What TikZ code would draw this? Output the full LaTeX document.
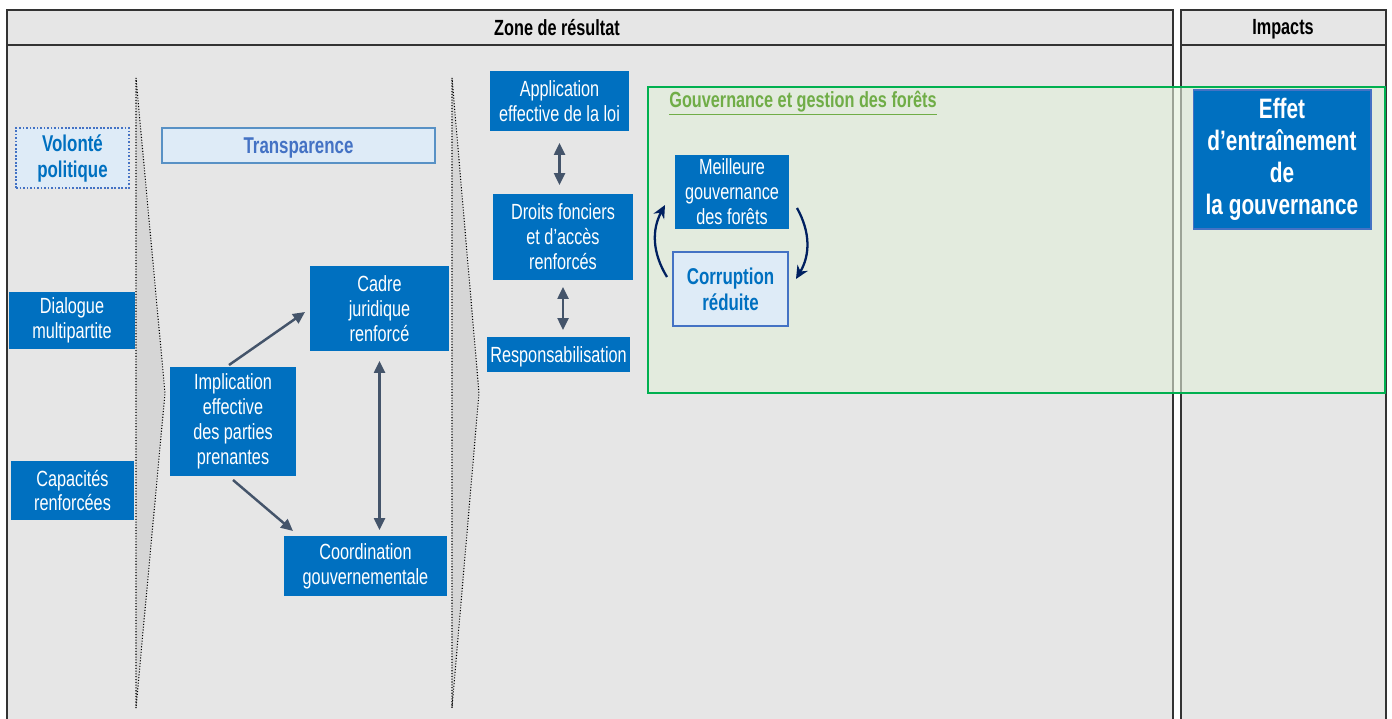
\documentclass[tikz,border=0pt]{standalone}
\usepackage{fontspec}
\setmainfont{Liberation Sans}[FakeStretch=0.74]
\usetikzlibrary{arrows.meta,calc}
\definecolor{ablue}{HTML}{0070C0}
\definecolor{paleblue}{HTML}{DEEBF7}
\definecolor{edgeblue}{HTML}{4472C4}
\definecolor{skyblue}{HTML}{2E75B6}
\definecolor{slate}{HTML}{44546A}
\definecolor{navy}{HTML}{002060}
\definecolor{zonegray}{HTML}{E6E6E6}
\definecolor{chevgray}{HTML}{D6D6D6}
\definecolor{boxgreen}{HTML}{00B050}
\definecolor{tgreen}{HTML}{70AD47}
\definecolor{greenfill}{HTML}{E2EFD9}

\begin{document}
\begin{tikzpicture}[x=0.02cm,y=-0.02cm,
  bluebox/.style={fill=ablue,text=white,align=center,inner sep=0pt,outer sep=0pt,
    font=\fontsize{12.5}{14.2}\selectfont},
  palebox/.style={fill=paleblue,text=ablue,align=center,inner sep=0pt,outer sep=0pt,
    font=\bfseries\fontsize{13}{14.8}\selectfont},
  flow/.style={draw=slate,line width=1.4pt},
  loop/.style={draw=navy,line width=1.3pt,-{Stealth[length=0.26cm,width=0.24cm]}},
  chevron/.style={fill=chevgray,draw=black,densely dotted,line width=0.6pt},
  column/.style={fill=zonegray,draw=black!80,line width=0.6pt}]
\useasboundingbox[fill=white] (0,0) rectangle (1392,719);

% columns
\draw[column] (7,10) rectangle (1173,722);
\draw[black!80,line width=0.6pt] (7,45) -- (1173,45);
\draw[column] (1181,10) rectangle (1386,722);
\draw[black!80,line width=0.6pt] (1181,45) -- (1386,45);
\node[font=\bfseries\fontsize{12.5}{14}\selectfont,text depth=0pt] (zonehead) at (557,27) {Zone de résultat};
\node[font=\bfseries\fontsize{12.5}{14}\selectfont,text depth=0pt] (impacthead) at (1283,27) {Impacts};

% chevrons
\draw[chevron] (136,78) -- (165,393) -- (136,708) -- cycle;
\draw[chevron] (452,78) -- (479,393) -- (452,708) -- cycle;

% forest governance area
\draw[boxgreen,line width=1.6pt,fill=greenfill,fill opacity=0.6] (648,87) rectangle (1385,393);
\node[anchor=west,inner sep=0pt,text=tgreen,font=\bfseries\fontsize{12.5}{14}\selectfont] (govtitle) at (669,103)
  {\underline{Gouvernance et gestion des forêts}};

% left part
\node[palebox,draw=edgeblue,densely dotted,line width=1pt,minimum width=2.26cm,minimum height=1.2cm]
  (volonte) at (72.5,158) {Volonté\\politique};
\node[palebox,text=edgeblue,draw=skyblue!80,line width=0.9pt,minimum width=5.46cm,minimum height=0.7cm,
  text depth=0pt] (transp) at (298.5,145.5) {Transparence};
\node[bluebox,minimum width=2.52cm,minimum height=1.14cm] (dialogue) at (72,320.5) {Dialogue\\multipartite};
\node[bluebox,minimum width=2.46cm,minimum height=1.18cm] (capacites) at (72.5,490.5) {Capacités\\renforcées};
\node[bluebox,minimum width=2.52cm,minimum height=2.18cm] (impl) at (233,421.5)
  {Implication\\effective\\des parties\\prenantes};
\node[bluebox,minimum width=2.78cm,minimum height=1.7cm] (cadre) at (379.5,308.5) {Cadre\\juridique\\renforcé};
\node[bluebox,minimum width=3.26cm,minimum height=1.2cm] (coord) at (365.5,566) {Coordination\\gouvernementale};

% middle part
\node[bluebox,minimum width=2.78cm,minimum height=1.2cm] (applic) at (559.5,101) {Application\\effective de la loi};
\node[bluebox,minimum width=2.8cm,minimum height=1.72cm] (droits) at (563,237) {Droits fonciers\\et d’accès\\renforcés};
\node[bluebox,minimum width=2.86cm,minimum height=0.7cm,text depth=0pt] (respons) at (558.5,354.5) {Responsabilisation};

% loop
\node[bluebox,minimum width=2.28cm,minimum height=1.48cm] (meil) at (732,192) {Meilleure\\gouvernance\\des forêts};
\node[palebox,draw=edgeblue,line width=0.9pt,minimum width=2.3cm,minimum height=1.48cm]
  (corr) at (730.5,289) {Corruption\\réduite};

% impact
\node[bluebox,draw=edgeblue,line width=0.6pt,minimum width=3.56cm,minimum height=2.78cm,
  font=\bfseries\fontsize{16}{18.2}\selectfont] (effet) at (1282,159.5)
  {Effet\\d’entraînement\\de\\la gouvernance};

% arrows
\draw[flow,-{Triangle[length=0.24cm,width=0.22cm]}] ([xshift=-0.08cm,yshift=0.04cm]impl.north)
  -- ([xshift=-0.1cm,yshift=-0.07cm]cadre.west);
\draw[flow,-{Triangle[length=0.24cm,width=0.22cm]}] ([yshift=-0.08cm]impl.south)
  -- ([xshift=0.18cm,yshift=0.1cm]coord.north west);
\draw[flow,{Triangle[length=0.24cm,width=0.22cm]}-{Triangle[length=0.24cm,width=0.22cm]},
  shorten <=0.2cm,shorten >=0.12cm] (cadre.south) -- (cadre.south |- coord.north);
\draw[flow,{Triangle[length=0.24cm,width=0.22cm]}-{Triangle[length=0.24cm,width=0.22cm]},
  shorten <=0.24cm,shorten >=0.18cm] (applic.south) -- (applic.south |- droits.north);
\draw[flow,{Triangle[length=0.24cm,width=0.22cm]}-{Triangle[length=0.24cm,width=0.22cm]},
  shorten <=0.14cm,shorten >=0.14cm] (droits.south) -- (droits.south |- respons.north);
\draw[loop] ([xshift=-0.12cm,yshift=0.24cm]corr.west) to[bend left=30]
  ([xshift=-0.2cm,yshift=-0.26cm]meil.west);
\draw[loop] ([xshift=0.16cm,yshift=-0.32cm]meil.east) to[bend left=30]
  ([xshift=0.16cm,yshift=0.2cm]corr.east);

\end{tikzpicture}
\end{document}
